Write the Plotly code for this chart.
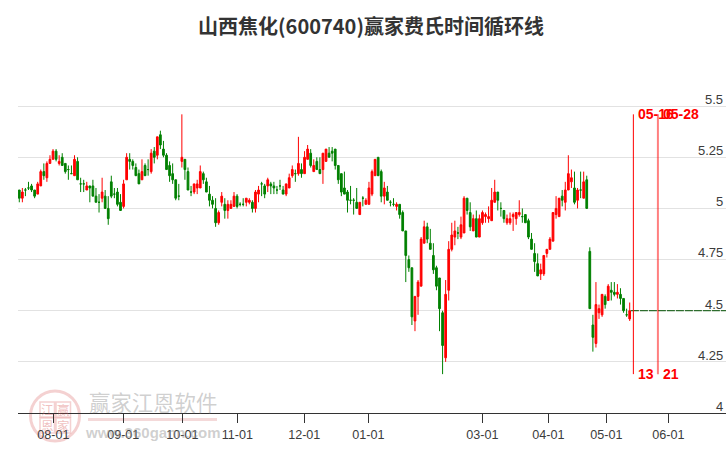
import plotly.graph_objects as go

title_text = "山西焦化(600740)赢家费氏时间循环线"
opens = [5.09,5.05,5.09,5.10,5.11,5.09,5.07,5.11,5.18,5.15,
 5.22,5.24,5.28,5.22,5.25,5.22,5.19,5.17,5.16,5.23,
 5.12,5.12,5.09,5.11,5.11,5.06,5.03,5.05,5.06,5.00,
 5.13,5.07,5.08,5.03,5.01,5.14,5.24,5.23,5.20,5.17,
 5.14,5.21,5.19,5.18,5.28,5.26,5.36,5.29,5.26,5.21,
 5.17,5.14,5.06,5.23,5.24,5.18,5.08,5.08,5.10,5.10,
 5.17,5.13,5.07,5.04,5.00,4.93,5.03,5.02,4.99,5.00,
 5.01,5.06,5.02,5.02,5.03,5.03,5.03,5.00,5.07,5.12,
 5.11,5.11,5.12,5.11,5.09,5.11,5.09,5.07,5.10,5.16,
 5.17,5.17,5.19,5.17,5.24,5.27,5.18,5.23,5.19,5.19,
 5.23,5.27,5.28,5.29,5.21,5.17,5.10,5.08,5.04,5.04,
 5.03,4.97,5.05,5.02,5.02,5.07,5.16,5.25,5.18,5.06,
 5.08,5.03,5.02,5.01,5.02,4.98,4.89,4.75,4.71,4.45,
 4.57,4.62,4.83,4.91,4.83,4.77,4.71,4.66,4.49,4.27,
 4.60,4.80,4.86,4.88,4.86,4.88,5.05,4.98,4.89,4.95,
 4.86,4.93,4.96,4.95,4.94,5.03,5.08,5.00,4.99,4.93,
 4.93,4.96,4.95,4.97,4.96,4.97,4.94,4.85,4.78,4.73,
 4.68,4.68,4.78,4.80,4.84,4.97,4.96,5.06,5.03,5.09,
 5.13,5.10,5.04,5.09,5.05,5.14,4.79,4.43,4.34,4.49,
 4.48,4.57,4.55,4.60,4.59,4.58,4.58,4.56,4.48,4.46]
highs = [5.09,5.10,5.10,5.13,5.12,5.09,5.13,5.19,5.22,5.23,
 5.26,5.29,5.29,5.26,5.27,5.22,5.21,5.21,5.26,5.25,
 5.15,5.14,5.13,5.11,5.14,5.10,5.07,5.15,5.09,5.06,
 5.16,5.10,5.10,5.07,5.14,5.27,5.27,5.24,5.22,5.19,
 5.24,5.22,5.24,5.29,5.30,5.35,5.38,5.33,5.27,5.23,
 5.22,5.14,5.12,5.46,5.24,5.20,5.11,5.12,5.14,5.21,
 5.18,5.15,5.11,5.06,5.05,4.99,5.08,5.05,5.04,5.04,
 5.08,5.07,5.03,5.05,5.05,5.05,5.04,5.09,5.11,5.13,
 5.12,5.15,5.13,5.13,5.11,5.14,5.11,5.12,5.17,5.21,
 5.19,5.35,5.22,5.28,5.31,5.29,5.24,5.25,5.25,5.27,
 5.29,5.30,5.30,5.29,5.21,5.17,5.18,5.09,5.11,5.05,
 5.10,5.03,5.06,5.05,5.13,5.19,5.24,5.25,5.19,5.13,
 5.11,5.04,5.05,5.03,5.02,4.99,4.89,4.77,4.71,4.57,
 4.65,4.86,4.94,4.93,4.90,4.83,4.72,4.66,4.50,4.65,
 4.84,4.93,4.94,4.91,4.96,5.06,5.05,5.03,4.97,4.99,
 4.97,4.99,4.98,5.01,5.10,5.14,5.08,5.03,4.99,4.97,
 4.98,4.98,4.98,5.04,5.00,4.97,4.95,4.88,4.83,4.78,
 4.73,4.77,4.80,4.86,4.98,5.06,5.05,5.09,5.13,5.26,
 5.19,5.18,5.10,5.18,5.18,5.16,4.81,4.48,4.64,4.53,
 4.58,4.58,4.63,4.64,4.64,4.63,4.61,4.56,4.51,4.54]
lows = [5.03,5.03,5.06,5.09,5.08,5.05,5.07,5.11,5.14,5.13,
 5.22,5.24,5.23,5.21,5.21,5.17,5.14,5.17,5.16,5.14,
 5.08,5.08,5.09,5.03,5.06,5.03,4.98,5.03,5.00,4.92,
 5.05,5.05,5.01,4.99,5.00,5.14,5.19,5.19,5.16,5.12,
 5.14,5.16,5.16,5.17,5.22,5.24,5.29,5.25,5.19,5.13,
 5.12,5.04,5.04,5.20,5.14,5.09,5.06,5.07,5.07,5.10,
 5.12,5.08,5.01,5.00,4.91,4.92,5.01,4.95,4.95,5.00,
 5.01,5.00,5.01,5.01,5.01,5.02,4.98,4.98,5.03,5.06,
 5.05,5.08,5.07,5.07,5.07,5.09,5.07,5.06,5.10,5.15,
 5.13,5.16,5.15,5.17,5.24,5.20,5.18,5.19,5.17,5.12,
 5.23,5.25,5.23,5.19,5.12,5.06,5.07,4.98,5.02,4.97,
 5.00,4.97,5.01,5.02,5.02,5.06,5.16,5.16,5.03,5.02,
 5.04,5.01,5.01,4.99,4.95,4.89,4.64,4.69,4.43,4.40,
 4.48,4.62,4.83,4.83,4.80,4.68,4.60,4.40,4.19,4.25,
 4.55,4.79,4.82,4.85,4.85,4.88,4.97,4.89,4.89,4.86,
 4.86,4.92,4.93,4.93,4.94,5.03,4.99,4.96,4.93,4.92,
 4.92,4.89,4.92,4.96,4.93,4.93,4.85,4.80,4.69,4.67,
 4.65,4.67,4.76,4.80,4.84,4.95,4.96,5.01,4.99,5.09,
 5.10,5.02,5.00,5.05,5.05,5.00,4.51,4.30,4.32,4.46,
 4.47,4.51,4.55,4.55,4.57,4.56,4.53,4.49,4.47,4.45]
closes = [5.05,5.08,5.09,5.10,5.09,5.06,5.12,5.18,5.16,5.22,
 5.24,5.28,5.24,5.23,5.21,5.18,5.19,5.17,5.24,5.14,
 5.12,5.12,5.11,5.10,5.06,5.03,5.03,5.08,5.00,4.95,
 5.06,5.07,5.02,4.99,5.12,5.25,5.23,5.21,5.16,5.12,
 5.18,5.16,5.19,5.27,5.25,5.35,5.31,5.26,5.19,5.16,
 5.14,5.05,5.06,5.25,5.19,5.09,5.08,5.12,5.12,5.18,
 5.14,5.08,5.04,5.02,4.93,4.98,5.06,4.99,5.02,5.02,
 5.06,5.01,5.02,5.02,5.05,5.04,5.00,5.08,5.09,5.12,
 5.07,5.14,5.11,5.10,5.09,5.11,5.07,5.12,5.15,5.19,
 5.17,5.22,5.17,5.25,5.29,5.21,5.21,5.19,5.17,5.27,
 5.29,5.25,5.27,5.21,5.14,5.08,5.07,5.04,5.04,5.04,
 5.00,5.03,5.05,5.04,5.10,5.18,5.24,5.16,5.06,5.10,
 5.04,5.03,5.02,5.02,4.97,4.89,4.77,4.71,4.47,4.57,
 4.64,4.85,4.91,4.85,4.80,4.70,4.62,4.51,4.33,4.58,
 4.80,4.87,4.89,4.88,4.92,5.05,4.99,4.91,4.95,4.86,
 4.95,4.98,4.97,4.96,5.04,5.08,5.04,5.00,4.95,4.95,
 4.95,4.97,4.98,4.98,4.96,4.93,4.86,4.80,4.74,4.67,
 4.70,4.77,4.80,4.85,4.98,5.00,5.05,5.04,5.09,5.17,
 5.15,5.03,5.09,5.09,5.13,5.00,4.51,4.37,4.53,4.51,
 4.58,4.53,4.62,4.59,4.58,4.59,4.56,4.50,4.48,4.50]
xtick_pos = [11.1,33.9,53.15,71.1,92.9,113.8,151,172.5,191.4,211.6]
xtick_labels = ["08-01","09-01","10-01","11-01","12-01","01-01","03-01","04-01","05-01","06-01"]
ytick_vals = [4,4.25,4.5,4.75,5,5.25,5.5]
ytick_labels = ["4","4.25","4.5","4.75","5","5.25","5.5"]
cycle_x = [200.2,208.2]
cycle_dates = ["05-16","05-28"]
cycle_days = ["13","21"]
last_level = 4.5

assert len(opens)==len(highs)==len(lows)==len(closes)==200
xs = list(range(len(opens)))
up = [i for i in xs if closes[i] > opens[i]]
dn = [i for i in xs if closes[i] <= opens[i]]

def candle(idx, col):
    return go.Candlestick(x=idx, open=[opens[i] for i in idx], high=[highs[i] for i in idx],
        low=[lows[i] for i in idx], close=[closes[i] for i in idx],
        increasing=dict(line=dict(color=col,width=1),fillcolor=col),
        decreasing=dict(line=dict(color=col,width=1),fillcolor=col),
        whiskerwidth=0, hoverinfo="skip", showlegend=False)

fig = go.Figure([candle(up,"#ff0000"), candle(dn,"#008000")])
x_right = 230.4
fig.add_trace(go.Scatter(x=[xs[-1]+0.4,x_right], y=[last_level,last_level], mode="lines",
    line=dict(color="#005000",width=1,dash="8px,1px"), hoverinfo="skip", showlegend=False))
ymin, ymax = min(lows), max(highs)
fig.add_trace(go.Scatter(x=[cycle_x[0]]*2, y=[ymin,ymax], mode="lines",
    line=dict(color="#ff0000",width=1), hoverinfo="skip", showlegend=False))
fig.add_trace(go.Scatter(x=[cycle_x[1]]*2, y=[ymin,ymax], mode="lines",
    line=dict(color="rgba(255,0,0,0.5)",width=2), hoverinfo="skip", showlegend=False))

anns = []
for cx,d,n in zip(cycle_x,cycle_dates,cycle_days):
    anns.append(dict(x=cx,y=ymax,xref="x",yref="y",text=d,showarrow=False,xanchor="left",yanchor="middle",
        xshift=3,font=dict(family="Liberation Sans",size=14,color="#ff0000",weight="bold")))
    anns.append(dict(x=cx,y=ymin,xref="x",yref="y",text=n,showarrow=False,xanchor="left",yanchor="middle",
        xshift=3,font=dict(family="Liberation Sans",size=14,color="#ff0000",weight="bold")))
for v,t in zip(ytick_vals,ytick_labels):
    anns.append(dict(x=1,y=v,xref="paper",yref="y",text=t,showarrow=False,xanchor="right",yanchor="middle",
        xshift=-1,yshift=6.6,font=dict(family="Liberation Sans",size=13,color="#3c3c3c")))

def px(x): return (x-18)/708
def py(y): return (413-y)/358
anns += [
 dict(x=px(152.5),y=py(401.5),xref="paper",yref="paper",text="赢家江恩软件",showarrow=False,xanchor="center",yanchor="middle",
      font=dict(family="Noto Sans CJK SC",size=21.4,color="rgba(140,140,140,0.42)")),
 dict(x=px(152),y=py(432),xref="paper",yref="paper",text="www.360gann.com",showarrow=False,xanchor="center",yanchor="middle",
      font=dict(family="Liberation Sans",size=15,color="rgba(140,140,140,0.42)",weight="bold")),
]
for ch,cx,cy in [("江",47,409.5),("赢",63,409.5),("恩",47,425.5),("家",63,425.5)]:
    anns.append(dict(x=px(cx),y=py(cy),xref="paper",yref="paper",text=ch,showarrow=False,xanchor="center",yanchor="middle",
      font=dict(family="Noto Sans CJK SC",size=12.5,color="rgba(215,90,90,0.4)")))

shapes = [
 dict(type="circle",xref="paper",yref="paper",x0=px(30.5),x1=px(79.5),y0=py(441),y1=py(391),layer="below",
      line=dict(color="rgba(215,90,90,0.28)",width=3)),
 dict(type="line",xref="paper",yref="paper",x0=px(88),x1=px(217),y0=py(419.5),y1=py(419.5),layer="below",
      line=dict(color="rgba(215,120,120,0.28)",width=3)),
]
for x0,y0 in [(40,402),(56,402),(40,418),(56,418)]:
    shapes.append(dict(type="rect",xref="paper",yref="paper",x0=px(x0),x1=px(x0+14.5),y0=py(y0+15),y1=py(y0),layer="below",
        line=dict(color="rgba(215,90,90,0.28)",width=1.5)))

fig.update_layout(width=726,height=450,margin=dict(l=18,r=0,t=55,b=37),
    paper_bgcolor="white",plot_bgcolor="white",showlegend=False,boxgap=0.2,
    title=dict(text=title_text,x=(371-18)/708,xanchor="center",xref="paper",y=1-27/450,yanchor="middle",
        font=dict(family="Noto Sans CJK SC",size=20,color="#333333",weight="bold")),
    xaxis=dict(range=[-0.42,x_right],rangeslider=dict(visible=False),tickmode="array",tickvals=xtick_pos,ticktext=xtick_labels,
        ticks="outside",ticklen=9,tickcolor="#333333",tickwidth=1,showline=True,linecolor="#333333",linewidth=1,
        showgrid=False,zeroline=False,tickangle=0,ticklabelstandoff=1,tickfont=dict(family="Liberation Sans",size=12.6,color="#3c3c3c")),
    yaxis=dict(range=[4,5.75],side="right",tickmode="array",tickvals=ytick_vals,showticklabels=False,
        ticks="",showgrid=True,gridcolor="#e2e2e2",gridwidth=1,zeroline=False,showline=False),
    annotations=anns,shapes=shapes)
fig.write_html("out.html",config=dict(displayModeBar=False),post_script="document.body.style.margin='0';")
